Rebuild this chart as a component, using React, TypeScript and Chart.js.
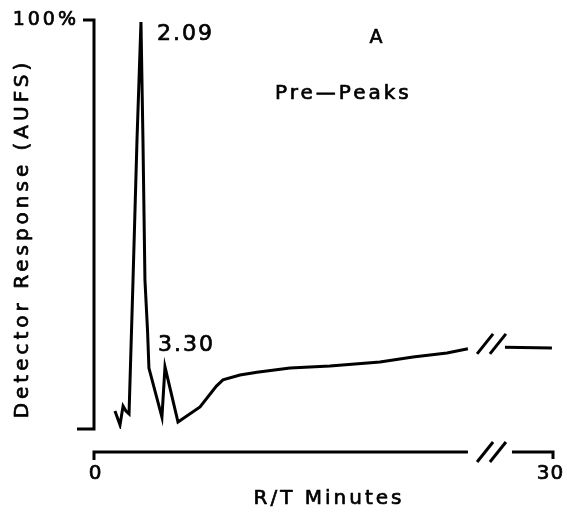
import React, { useEffect, useRef } from "react";
import { Chart, registerables } from "chart.js";

Chart.register(...registerables);

// Retention time (minutes, as placed on the drawn axis) and detector response (% AUFS)
const retentionMinutes = [
  1.37, 1.7, 1.9, 2.09, 2.29, 2.55, 2.81, 3.07, 3.2, 3.33, 3.5, 3.59, 4.44, 4.64, 5.49,
  6.93, 8.0, 8.43, 9.54, 10.65, 12.81, 15.42, 18.69, 20.85, 23.07, 24.44, 25.6, 26.86, 29.93,
];
const detectorResponse = [
  4.4, 1.0, 5.6, 4.4, 3.7, 36.4, 70.7, 99.5, 70.7, 36.4, 24.0, 14.9, 2.9, 15.2, 1.7,
  5.4, 10.5, 12.0, 13.2, 13.9, 14.9, 15.4, 16.4, 17.6, 18.6, 19.6, null, 20.0, 19.8,
];
const xTickValues = [0, 30];
const xTickLabels = ["0", "30"];
const yTopLabel = "100%";
const peakLabels = ["2.09", "3.30"];
const peakIndices = [7, 13];
const xTitle = "R/T Minutes";
const yTitle = "Detector Response (AUFS)";
const panelLetter = "A";
const panelTitle = "Pre—Peaks";
const breakStart = 24.44; // last plotted point before the axis break
const breakEnd = 26.86; // first plotted point after the axis break

const FONT = '"DejaVu Sans", sans-serif';

function txt(
  ctx: CanvasRenderingContext2D,
  s: string,
  x: number,
  y: number,
  size: number,
  spacing: number,
  align: CanvasTextAlign
) {
  ctx.save();
  ctx.font = `${size}px ${FONT}`;
  (ctx as any).letterSpacing = `${spacing}px`;
  ctx.textAlign = "left";
  ctx.textBaseline = "middle";
  const w = ctx.measureText(s).width - spacing;
  let x0 = x;
  if (align === "center") x0 = x - w / 2;
  else if (align === "right") x0 = x - w;
  ctx.fillStyle = "#000";
  ctx.strokeStyle = "#000";
  ctx.lineWidth = 0.7;
  ctx.lineJoin = "round";
  ctx.fillText(s, x0, y);
  ctx.strokeText(s, x0, y);
  ctx.restore();
}

const axesPlugin = {
  id: "handAxes",
  afterDraw(chart: any) {
    const ctx: CanvasRenderingContext2D = chart.ctx;
    const xs = chart.scales.x;
    const ys = chart.scales.y;
    const x0 = xs.getPixelForValue(0);
    const x30 = xs.getPixelForValue(30);
    const yTop = ys.getPixelForValue(100);
    const yBot = ys.getPixelForValue(0);
    const axY = yBot + 23;
    ctx.save();
    ctx.strokeStyle = "#000";
    ctx.fillStyle = "#000";
    ctx.lineWidth = 3;
    ctx.lineCap = "butt";
    ctx.lineJoin = "miter";

    // y axis
    ctx.beginPath();
    ctx.moveTo(x0 - 11, yTop);
    ctx.lineTo(x0, yTop);
    ctx.lineTo(x0, yBot);
    ctx.lineTo(x0 - 17, yBot);
    ctx.stroke();

    // x axis with break
    const bL = xs.getPixelForValue(breakStart);
    const bR = xs.getPixelForValue(breakEnd) + 7;
    ctx.beginPath();
    ctx.moveTo(x0, axY + 8);
    ctx.lineTo(x0, axY);
    ctx.lineTo(bL, axY);
    ctx.stroke();
    ctx.beginPath();
    ctx.moveTo(bR, axY);
    ctx.lineTo(x30, axY);
    ctx.lineTo(x30, axY + 7);
    ctx.stroke();

    const s1 = xs.getPixelForValue(25.56);
    const s2 = xs.getPixelForValue(26.4);
    const slash = (cx: number, cy: number) => {
      ctx.beginPath();
      ctx.moveTo(cx - 8, cy + 10);
      ctx.lineTo(cx + 8, cy - 10);
      ctx.stroke();
    };
    slash(s1, axY);
    slash(s2, axY);
    const dY = ys.getPixelForValue(20.8);
    slash(s1, dY);
    slash(s2, dY);

    // tick labels
    xTickValues.forEach((v, i) => {
      txt(ctx, xTickLabels[i], xs.getPixelForValue(v) - (i === 1 ? 3 : -1), axY + 22, 20, 1, "center");
    });
    txt(ctx, yTopLabel, x0 - 18, yTop, 19, 3, "right");

    // titles
    txt(ctx, xTitle, (x0 + x30) / 2 + 4, axY + 47, 20, 3, "center");
    ctx.save();
    ctx.translate(23, (yTop + yBot) / 2 + 16);
    ctx.rotate(-Math.PI / 2);
    txt(ctx, yTitle, 0, 0, 20, 4, "center");
    ctx.restore();

    // peak labels
    const p1x = xs.getPixelForValue(retentionMinutes[peakIndices[0]]);
    const p1y = ys.getPixelForValue(detectorResponse[peakIndices[0]] as number);
    txt(ctx, peakLabels[0], p1x + 16, p1y + 12, 22, 2, "left");
    const p2x = xs.getPixelForValue(retentionMinutes[peakIndices[1]]);
    const p2y = ys.getPixelForValue(detectorResponse[peakIndices[1]] as number);
    txt(ctx, peakLabels[1], p2x - 7, p2y - 22, 22, 2, "left");

    // panel labels
    txt(ctx, panelLetter, 376, 38, 19, 0, "center");
    txt(ctx, panelTitle, 275, 94, 20, 3, "left");
    ctx.restore();
  },
};

export default function App() {
  const ref = useRef<HTMLCanvasElement | null>(null);
  useEffect(() => {
    if (!ref.current) return;
    const chart = new Chart(ref.current, {
      type: "line",
      data: {
        datasets: [
          {
            data: retentionMinutes.map((x, i) => ({ x, y: detectorResponse[i] })) as any,
            borderColor: "#000",
            borderWidth: 3,
            pointRadius: 0,
            tension: 0,
            spanGaps: false,
            fill: false,
          },
        ],
      },
      options: {
        responsive: false,
        animation: false,
        layout: { padding: { left: 94, right: 14, top: 20, bottom: 85 } },
        plugins: { legend: { display: false }, tooltip: { enabled: false } },
        scales: {
          x: { type: "linear", min: 0, max: 30, display: false },
          y: { type: "linear", min: 0, max: 100, display: false },
        },
      },
      plugins: [axesPlugin],
    });
    return () => chart.destroy();
  }, []);
  return (
    <div style={{ position: "absolute", left: 0, top: 0, width: 567, height: 514, background: "#fff" }}>
      <canvas ref={ref} width={567} height={514} />
    </div>
  );
}
